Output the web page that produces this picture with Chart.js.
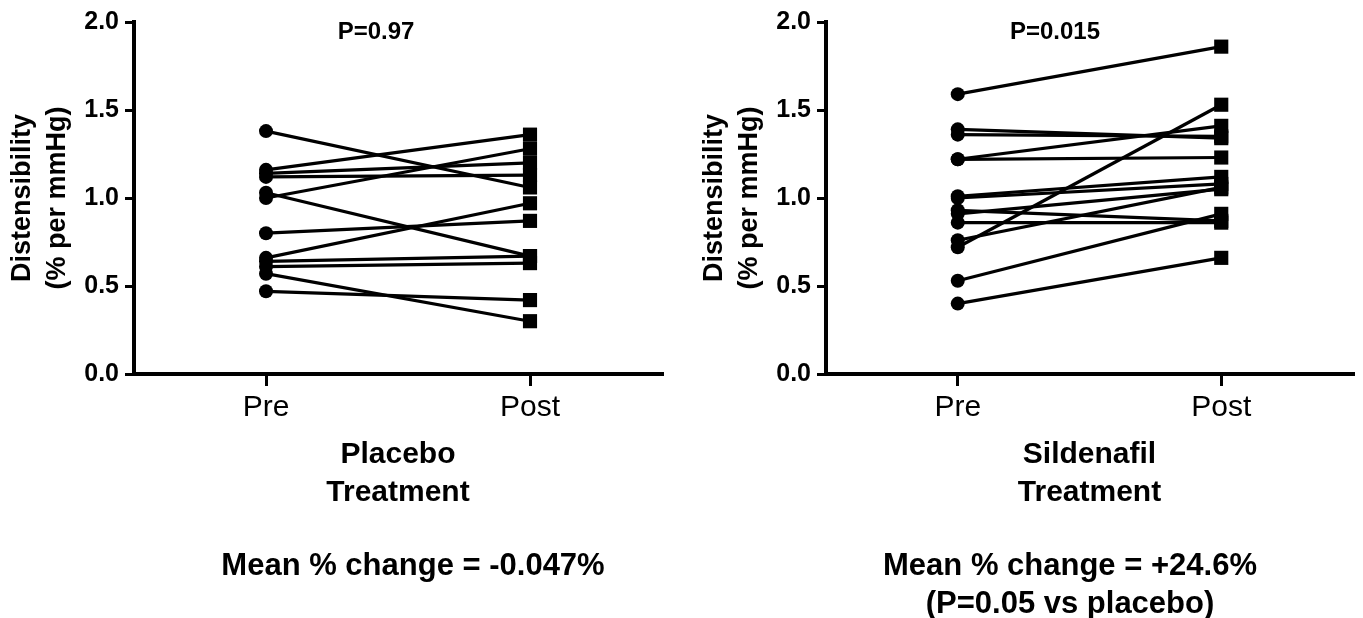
<!DOCTYPE html>
<html lang="en">
  <head>
    <meta charset="UTF-8" />
    <title>Distensibility</title>
    <script src="https://cdn.jsdelivr.net/npm/chart.js@4.4.1/dist/chart.umd.min.js"></script>
    <style>
      body { margin: 0; background: #fff; width: 1363px; height: 618px; position: relative; overflow: hidden; font-family: "Liberation Sans", Arial, sans-serif; }
      .panel { position: absolute; top: 0; height: 618px; }
      .note { position: absolute; transform: translate(-50%, -50%); white-space: nowrap; font-weight: bold; color: #000; }
      .p { font-size: 24px; }
      .mean { font-size: 31px; line-height: 38px; text-align: center; }
    </style>
  </head>
  <body>
    <div class="panel" style="left: 0; width: 680px"><canvas id="placeboChart" width="680" height="618"></canvas></div>
    <div class="panel" style="left: 692px; width: 671px"><canvas id="sildenafilChart" width="671" height="618"></canvas></div>

    <div class="note p" style="left: 376px; top: 31px">P=0.97</div>
    <div class="note p" style="left: 1055px; top: 31px">P=0.015</div>
    <div class="note mean" style="left: 413px; top: 565px">Mean % change = -0.047%</div>
    <div class="note mean" style="left: 1070px; top: 584px">Mean % change = +24.6%<br />(P=0.05 vs placebo)</div>

    <script>
      const timepoints = ["Pre", "Post"];
      const yTicks = [0, 0.5, 1.0, 1.5, 2.0];

      // 각 피험자 pre -> post (같은 인덱스끼리 선으로 연결)
      const placeboPre = [1.38, 1.16, 1.14, 1.12, 1.03, 1.0, 0.8, 0.66, 0.64, 0.61, 0.57, 0.47];
      const placeboPost = [1.06, 1.36, 1.2, 1.13, 0.67, 1.28, 0.87, 0.97, 0.67, 0.63, 0.3, 0.42];

      const sildenafilPre = [1.59, 1.39, 1.36, 1.22, 1.22, 1.01, 1.0, 0.93, 0.91, 0.86, 0.76, 0.72, 0.53, 0.4];
      const sildenafilPost = [1.86, 1.34, 1.35, 1.41, 1.23, 1.12, 1.08, 0.87, 1.05, 0.86, 1.06, 1.53, 0.91, 0.66];

      const fontFamily = "'Liberation Sans', Arial, sans-serif";

      function makeDatasets(pre, post) {
        return pre.map(function (v, i) {
          return {
            data: [v, post[i]],
            borderColor: "#000",
            backgroundColor: "#000",
            borderWidth: 3.2,
            pointStyle: ["circle", "rect"],
            pointRadius: [7, 10],
            pointHoverRadius: [7, 10],
            pointBorderWidth: 0,
            tension: 0,
          };
        });
      }

      function makeChart(id, pre, post, groupName, padRight) {
        const ctx = document.querySelector(id).getContext("2d");
        return new Chart(ctx, {
          type: "line",
          data: {
            labels: timepoints,
            datasets: makeDatasets(pre, post),
          },
          options: {
            responsive: false,
            animation: false,
            events: [],
            layout: { padding: { top: 22, right: padRight, left: 0, bottom: 0 } },
            plugins: { legend: { display: false }, tooltip: { enabled: false } },
            scales: {
              x: {
                type: "category",
                offset: true,
                afterFit: function (scale) {
                  scale.height = 244;
                },
                border: { display: true, color: "#000", width: 4 },
                grid: { drawOnChartArea: false, drawTicks: true, tickLength: 12, color: "#000", lineWidth: 3 },
                ticks: { color: "#000", padding: 4, font: { family: fontFamily, size: 30 } },
                title: {
                  display: true,
                  text: [groupName, "Treatment"],
                  color: "#000",
                  padding: { top: 0, bottom: 107 },
                  font: { family: fontFamily, size: 30, weight: "bold", lineHeight: 1.25 },
                },
              },
              y: {
                min: 0,
                max: 2,
                afterFit: function (scale) {
                  scale.width = 134;
                },
                afterBuildTicks: function (scale) {
                  scale.ticks = yTicks.map(function (v) {
                    return { value: v };
                  });
                },
                border: { display: true, color: "#000", width: 4 },
                grid: { drawOnChartArea: false, drawTicks: true, tickLength: 9, color: "#000", lineWidth: 3 },
                ticks: {
                  color: "#000",
                  padding: 6,
                  font: { family: fontFamily, size: 25, weight: "bold" },
                  callback: function (v) {
                    return Number(v).toFixed(1);
                  },
                },
                title: {
                  display: true,
                  text: ["Distensibility", "(% per mmHg)"],
                  color: "#000",
                  padding: { top: 5, bottom: 0 },
                  font: { family: fontFamily, size: 27, weight: "bold", lineHeight: 1.3 },
                },
              },
            },
          },
        });
      }

      makeChart("#placeboChart", placeboPre, placeboPost, "Placebo", 18);
      makeChart("#sildenafilChart", sildenafilPre, sildenafilPost, "Sildenafil", 9);
    </script>
  </body>
</html>
